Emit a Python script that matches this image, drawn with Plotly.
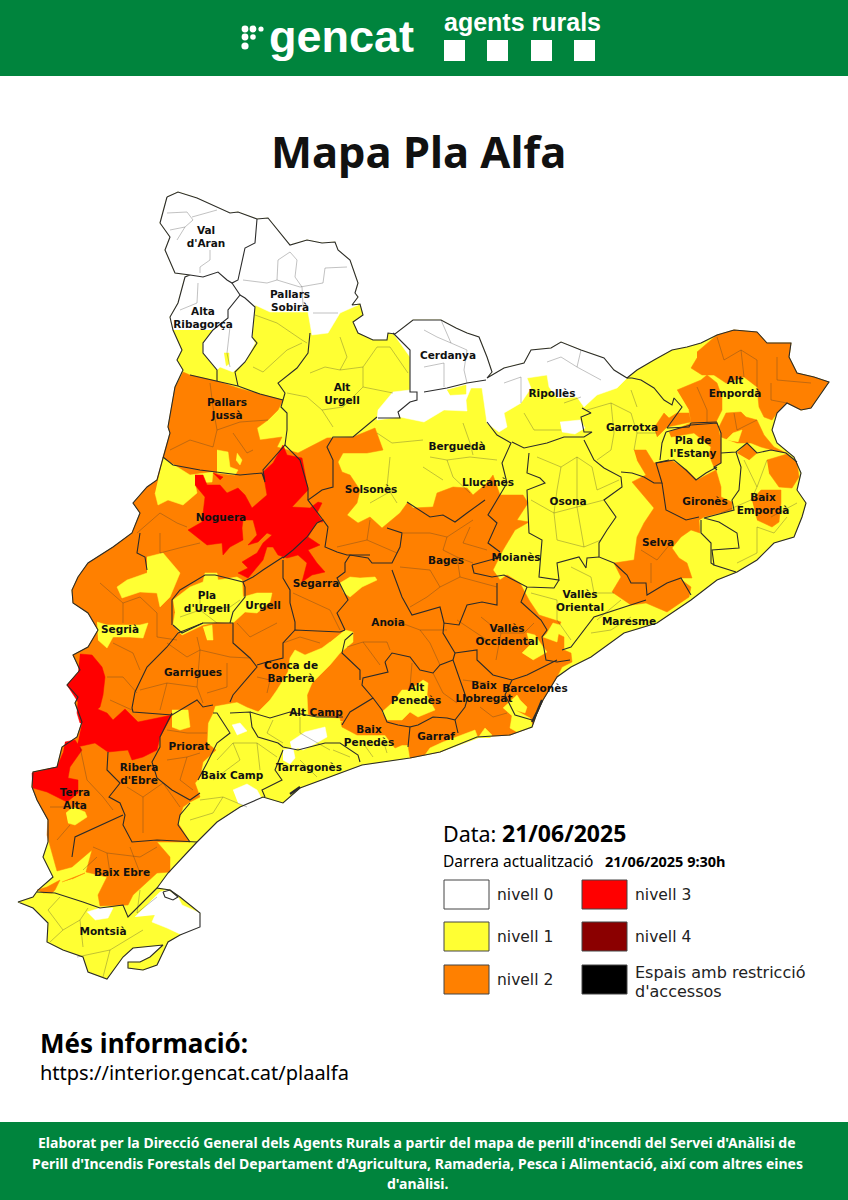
import plotly.graph_objects as go

# map geometry, as (x, y) in picture pixels
CATALONIA = [
    (167,197),(178,192),(197,198),(213,205),(230,213),(238,212),(257,219),(268,218),(278,230),(290,245),
    (307,240),(322,243),(335,242),(338,250),(350,260),(358,283),(355,293),(358,297),(352,305),(360,304),
    (363,315),(353,322),(358,333),(373,340),(387,340),(388,333),(395,334),(413,320),(424,320),(441,320),
    (456,328),(467,333),(479,337),(487,357),(492,372),(487,378),(504,368),(524,363),(531,350),(551,348),
    (561,342),(581,350),(604,358),(614,370),(627,378),(637,370),(654,360),(672,350),(687,347),(701,343),
    (717,335),(734,330),(757,332),(767,343),(791,343),(789,357),(797,373),(814,377),(829,382),(821,393),
    (811,408),(801,410),(787,403),(777,413),(772,430),(777,443),(794,457),(801,473),(797,490),(806,503),
    (802,517),(794,537),(774,543),(757,560),(737,572),(717,580),(691,600),(657,623),(624,633),(591,657),
    (571,667),(557,677),(543,700),(537,713),(532,727),(510,735),(477,737),(440,752),(423,755),(410,758),
    (362,765),(343,772),(300,788),(283,803),(263,797),(240,807),(217,822),(197,842),(168,873),(157,888),
    (170,890),(180,897),(200,913),(200,927),(180,935),(168,942),(157,965),(143,970),(128,968),(128,962),
    (140,962),(150,957),(163,945),(133,948),(123,957),(107,979),(88,972),(83,957),(63,950),(47,942),
    (48,923),(33,908),(18,902),(33,897),(38,890),(53,877),(43,857),(48,842),(48,820),(37,800),(32,787),
    (33,772),(57,767),(62,747),(77,737),(82,722),(75,703),(78,697),(67,685),(80,670),(73,655),(88,647),
    (98,630),(88,613),(73,603),(72,590),(78,577),(88,563),(113,547),(132,533),(140,513),(133,503),(147,487),
    (157,480),(163,457),(170,433),(168,427),(175,387),(183,370),(177,360),(182,350),(173,330),(170,317),
    (178,303),(185,277),(190,275),(175,273),(165,250),(170,237),(160,223),(167,197),
]

LEVEL_0_AREAS = [
    [(173,330),(170,317),(178,303),(185,277),(190,275),(175,273),(165,250),(170,237),(160,223),(167,197),
     (178,192),(197,198),(213,205),(230,213),(238,212),(257,219),(268,218),(278,230),(290,245),(307,240),
     (322,243),(335,242),(338,250),(350,260),(358,283),(355,293),(358,297),(352,305),(358,305),(340,313),
     (328,333),(312,335),(308,312),(270,312),(255,305),(252,337),(255,343),(245,362),(233,372),(220,367),
     (217,370),(203,353),(203,343),(213,330)],
    [(388,333),(395,334),(413,320),(424,320),(441,320),(456,328),(467,333),(479,337),(487,357),(492,372),
     (487,378),(504,368),(524,363),(531,350),(551,348),(561,342),(581,350),(604,358),(614,370),(627,378),
     (617,388),(597,395),(584,407),(577,397),(557,398),(549,387),(547,375),(527,378),(531,388),(521,403),
     (504,413),(507,427),(499,432),(487,423),(484,403),(482,388),(471,388),(466,400),(467,411),(444,410),
     (424,422),(400,417),(377,420),(378,410),(393,392),(410,390),(410,357),(393,333)],
    [(560,422),(580,420),(585,428),(575,434),(562,432)],
    [(233,790),(247,784),(257,790),(263,801),(245,806),(238,803)],
    [(232,725),(240,723),(247,731),(237,735)],
    [(290,742),(305,732),(325,727),(327,737),(313,745),(303,750),(298,748),(292,750)],
    [(283,750),(293,748),(295,758),(290,764),(283,760)],
    [(87,912),(100,908),(113,908),(108,918),(95,920)],
    [(170,608),(177,608),(178,620),(172,622)],
    [(182,621),(190,615),(193,617),(187,624)],
    [(147,562),(154,566),(156,578),(149,578)],
    [(135,917),(160,892),(168,890),(178,897),(182,905),(200,913),(202,927),(182,935),(167,928),(152,922),(155,915)],
]

LEVEL_2_AREAS = [
    [(183,372),(190,375),(217,381),(238,388),(260,394),(283,400),(278,410),(268,420),(257,428),(260,440),
     (282,437),(277,447),(298,453),(327,438),(353,437),(375,428),(383,450),(367,453),(343,453),(338,462),
     (342,472),(350,475),(360,490),(357,503),(347,515),(358,523),(370,517),(382,528),(400,513),(408,502),
     (413,508),(433,507),(437,493),(453,487),(467,488),(473,495),(487,483),(493,475),(500,495),(523,495),
     (528,503),(517,520),(529,522),(515,530),(503,550),(493,570),(500,580),(507,575),(520,583),(529,600),
     (539,615),(561,622),(556,633),(564,637),(564,650),(571,653),(572,662),(562,667),(557,677),(543,700),
     (537,713),(532,727),(510,735),(477,737),(440,752),(423,755),(410,758),(408,745),(402,745),(395,748),
     (385,735),(368,735),(357,735),(342,727),(340,718),(260,712),(247,707),(237,702),(215,706),(213,713),
     (208,723),(207,743),(216,750),(203,762),(200,777),(195,783),(200,797),(190,802),(183,807),(178,823),
     (190,842),(157,842),(170,857),(170,872),(157,873),(133,895),(128,905),(100,906),(98,895),(107,877),
     (86,872),(92,850),(72,867),(57,871),(52,853),(47,835),(48,820),(37,800),(32,787),(33,772),(57,767),
     (62,747),(77,737),(82,722),(75,703),(78,697),(67,685),(80,670),(73,655),(88,647),(98,630),(88,613),
     (73,603),(72,590),(78,577),(88,563),(113,547),(132,533),(140,513),(133,503),(147,487),(157,480),
     (163,457),(170,433),(168,427),(175,387)],
    [(697,352),(717,335),(734,330),(757,332),(767,343),(791,343),(789,357),(797,373),(814,377),(829,382),
     (821,393),(811,408),(801,410),(787,403),(777,413),(772,420),(764,417),(759,407),(757,387),(744,377),
     (726,383),(714,375),(702,375),(691,368),(697,358)],
    [(677,390),(701,380),(707,375),(717,383),(722,397),(722,410),(716,422),(702,425),(691,422),(689,410)],
    [(654,428),(664,413),(669,418),(677,413),(689,413),(691,422),(667,427),(657,437)],
    [(669,432),(691,423),(717,422),(721,440),(721,463),(714,467),(709,455),(711,447),(694,433),(671,437)],
    [(719,427),(726,413),(741,412),(746,417),(757,420),(764,435),(774,447),(786,453),(772,450),(761,447),
     (751,443),(737,443),(721,437)],
    [(737,453),(747,443),(757,453),(749,460)],
    [(767,460),(787,454),(797,463),(799,477),(792,488),(779,487),(769,473)],
    [(752,500),(761,490),(781,490),(781,503),(779,522),(772,527),(757,520)],
    [(634,450),(646,450),(654,463),(671,460),(687,470),(697,480),(716,470),(721,487),(721,497),(732,502),
     (732,510),(704,517),(699,520),(700,533),(691,530),(681,537),(672,548),(679,558),(687,563),(692,578),
     (679,578),(691,587),(689,597),(667,612),(646,603),(631,605),(612,592),(621,577),(614,563),(634,560),
     (637,537),(644,523),(654,508),(639,490),(632,482),(646,475),(637,460)],
    [(37,890),(47,887),(60,880),(55,890),(52,893),(43,893)],
    [(62,882),(85,873),(72,879)],
]

LEVEL_1_PATCHES = [
    [(447,390),(466,385),(466,394),(450,395)],
    [(224,353),(229,353),(229,364),(226,366)],
    [(217,450),(228,452),(230,467),(238,470),(235,475),(217,473)],
    [(237,453),(242,460),(240,465),(236,460)],
    [(163,458),(190,475),(213,472),(212,482),(195,483),(197,493),(183,505),(168,500),(158,505),(155,493)],
    [(147,557),(163,553),(180,573),(170,597),(160,607),(157,593),(140,592),(122,598),(117,587),(127,580),(147,573)],
    [(173,600),(190,587),(203,582),(205,573),(217,573),(218,580),(237,577),(242,580),(243,597),(257,593),
     (272,593),(270,602),(257,613),(245,612),(233,623),(217,622),(203,625),(182,635),(173,625),(175,613)],
    [(203,627),(212,625),(213,640),(207,640)],
    [(97,622),(107,625),(140,625),(148,623),(143,638),(130,637),(113,637),(107,648),(98,640)],
    [(340,583),(350,577),(360,578),(375,577),(377,580),(362,587),(350,597),(343,592)],
    [(345,630),(353,632),(353,642),(340,653),(330,665),(318,677),(312,683),(307,695),(308,715),(343,722),
     (260,716),(257,713),(270,700),(277,690),(288,672),(290,658),(295,650),(305,655),(322,648),(330,642)],
    [(172,710),(188,710),(190,727),(180,730),(172,727)],
    [(66,813),(73,807),(85,812),(87,817),(75,825),(68,823)],
    [(382,712),(392,703),(402,690),(410,690),(423,680),(428,683),(427,695),(435,710),(418,717),(410,712),(402,720),(387,720)],
    [(503,708),(517,695),(520,700),(527,707),(525,713),(515,710),(530,718),(533,727),(517,732),(510,728),(512,716)],
    [(425,755),(430,748),(443,742),(475,730),(478,738),(440,752)],
    [(478,738),(485,728),(492,735),(490,738)],
    [(522,653),(530,645),(527,633),(535,635),(543,647),(547,652),(533,660)],
    [(547,633),(553,623),(560,625),(557,642),(543,637)],
    [(726,440),(733,433),(742,430),(738,442)],
]

LEVEL_3_AREAS = [
    [(195,475),(203,475),(207,485),(220,485),(227,493),(238,488),(245,495),(252,508),(267,495),(263,472),
     (273,463),(283,445),(287,455),(302,458),(308,490),(292,507),(310,508),(318,502),(322,503),(317,513),
     (323,522),(317,522),(308,537),(320,545),(308,550),(317,563),(325,572),(312,575),(302,582),(307,563),
     (298,555),(287,558),(278,555),(273,547),(267,547),(263,560),(248,578),(238,573),(248,568),(242,562),
     (257,553),(263,543),(272,535),(267,533),(258,542),(248,545),(257,535),(253,520),(243,520),(242,528),
     (243,540),(230,547),(223,555),(222,543),(207,545),(188,530),(202,522),(205,497),(195,485)],
    [(213,473),(223,477),(220,480)],
    [(80,654),(92,655),(102,667),(105,677),(103,695),(100,707),(93,713),(92,723),(80,723),(77,713),(78,702),(67,685),(78,673)],
    [(82,723),(95,708),(107,713),(113,720),(125,709),(138,722),(172,715),(160,737),(157,750),(143,757),(132,760),(128,750),(108,752),(95,743),(77,747)],
    [(65,742),(75,740),(82,750),(70,767),(68,778),(78,780),(78,793),(67,802),(47,792),(33,788),(32,773),(57,767),(63,753)],
]

COMARCA_LINES = [
    [(257,219),(255,243),(245,248),(238,280),(232,283),(227,280),(218,272),(203,277),(190,275)],
    [(232,283),(240,295),(228,310),(228,318),(213,330),(203,343),(203,353),(217,370),(217,381)],
    [(240,295),(245,298),(255,307),(252,337),(257,343),(245,362),(235,372),(238,386)],
    [(310,333),(308,353),(297,368),(278,383),(285,393),(283,400),(281,407),(287,413),(287,430),(285,445)],
    [(190,375),(217,381),(238,386),(260,394),(283,400)],
    [(163,457),(173,465),(200,470),(240,475),(262,473),(265,482),(263,470),(285,445),(300,460),(308,488),(308,500)],
    [(377,417),(353,437),(333,437),(327,447),(333,460),(333,487),(322,490),(308,500),(323,520)],
    [(393,333),(410,350),(410,392),(417,392),(417,400),(410,402),(398,412),(400,418),(378,418)],
    [(424,392),(447,388),(467,383),(486,380)],
    [(487,422),(497,435),(511,443),(502,463),(507,483),(500,495),(488,515),(497,523),(488,543),(500,552)],
    [(512,442),(524,448),(547,443),(564,437),(584,437),(592,432),(584,432),(581,417),(591,413),(582,408)],
    [(584,440),(594,460),(604,468),(621,477),(622,487),(604,500),(616,517),(607,530),(599,543),(599,557),(614,563)],
    [(529,453),(527,473),(540,478),(545,483),(527,490),(529,533),(542,540),(539,577),(559,580),(557,563),(579,557),(586,568),(587,558),(599,557)],
    [(472,565),(474,573),(492,577),(504,575),(527,587),(554,588),(559,580)],
    [(501,557),(472,565)],
    [(527,587),(521,602),(541,620),(547,630),(542,637),(544,650),(546,660),(557,662),(570,660)],
    [(497,583),(497,605),(482,602),(467,605),(459,625),(444,623),(443,633),(455,653),(453,660),(467,700),(465,707),(455,720)],
    [(455,653),(477,650),(477,660),(493,675),(512,680),(527,675),(557,660)],
    [(512,680),(505,695),(515,715),(532,720)],
    [(408,747),(410,727),(418,725),(433,717),(447,718),(455,720),(458,733)],
    [(385,662),(392,653),(410,657),(420,670),(433,673),(440,665),(453,660)],
    [(385,662),(388,672),(363,678),(362,685),(373,698),(350,712),(342,725)],
    [(360,680),(360,670),(342,653),(345,640),(353,633)],
    [(373,698),(382,710),(387,722),(398,725),(410,727)],
    [(392,570),(402,597),(412,615),(440,607),(444,623)],
    [(407,502),(423,512),(430,517),(443,515),(455,522),(467,513),(485,500)],
    [(387,528),(402,533),(400,547),(392,563),(372,563),(368,558),(350,555),(345,563),(345,572),(337,578),(342,588),(348,600),(337,613),(345,630)],
    [(178,633),(167,647),(147,667),(135,692),(132,708),(133,712),(172,715),(197,700),(203,707),(213,705)],
    [(178,633),(203,623),(233,623),(233,643),(250,658),(257,667),(233,695),(230,702)],
    [(257,665),(267,662),(283,658),(283,643),(295,630),(340,632),(345,630)],
    [(283,560),(283,578),(290,590),(290,603),(295,622),(295,630)],
    [(283,558),(293,550),(307,537),(317,523),(323,520),(328,527),(325,547),(337,552),(347,555),(370,555)],
    [(243,582),(253,577),(263,570),(283,557)],
    [(140,533),(137,553),(145,557),(147,570)],
    [(173,625),(182,633),(203,623)],
    [(230,623),(233,612),(245,597),(245,587),(243,582),(215,575),(205,575),(180,590),(172,600),(172,625)],
    [(172,713),(160,737),(160,747),(152,762),(157,778),(172,790),(190,800),(200,793)],
    [(213,713),(217,713),(230,733),(217,743),(207,763),(198,780)],
    [(230,713),(250,712),(252,727),(258,737),(278,743),(283,747),(298,750),(325,743),(340,743),(358,755),(360,762)],
    [(283,750),(275,770),(282,780),(262,790),(265,797)],
    [(250,712),(270,718),(290,712),(317,717),(343,717)],
    [(108,752),(107,770),(120,783),(109,797),(120,803),(125,815),(123,825),(132,842),(157,840),(197,842)],
    [(123,815),(97,827),(75,837),(72,857)],
    [(190,803),(180,815),(178,825),(190,842)],
    [(37,892),(55,893),(83,902),(100,908),(123,905),(128,917),(157,888)],
    [(627,378),(632,378),(641,380),(654,388),(664,400),(672,405),(674,398),(682,407),(667,428),(689,427),(691,423),(717,422)],
    [(621,472),(632,473),(644,477),(654,483),(662,483),(656,463),(669,460)],
    [(666,432),(662,443),(660,460)],
    [(666,432),(691,425),(717,423),(721,433),(721,463),(714,467),(717,470)],
    [(656,463),(674,460),(686,470),(696,480),(706,473),(717,467)],
    [(721,453),(736,452),(747,443),(757,453),(771,450),(786,453),(797,462)],
    [(736,452),(741,467),(739,490),(732,500),(734,510),(704,518),(719,522),(737,533),(739,548),(712,550),(714,565),(736,572)],
    [(662,483),(664,497),(666,510),(686,520),(699,517)],
    [(701,520),(701,533),(711,543),(711,563),(714,565)],
    [(614,563),(627,575),(631,583),(646,583),(647,595),(667,583),(681,578),(691,595)],
    [(646,600),(621,608),(594,617),(571,647),(562,650)],
    [(163,892),(170,890),(178,897),(173,900),(165,897),(163,892)],
]

# harbours drawn heavier along the coast
HARBOUR_LINES = [
    [(532,722),(537,712),(542,700)],
    [(290,794),(300,787)],
]

MUNICIPAL_LINES = [
    [(167,213),(187,212),(193,220),(185,227),(170,230)],[(192,217),(217,210)],[(185,227),(177,240)],
    [(210,250),(210,260),(200,267),(200,273)],
    [(243,280),(267,283),(277,280),(300,287),(323,283),(325,268),(347,267)],
    [(278,260),(290,252),(297,260),(295,277),(302,287),(303,305)],[(278,260),(277,280)],[(313,313),(338,313)],
    [(198,283),(197,303),(180,310)],[(230,327),(227,353),(230,367)],
    [(255,315),(277,323),(302,340),(307,343)],[(253,367),(263,372),(287,350),(302,343)],
    [(310,373),(325,367),(340,370),(363,367),(377,347),(390,347),(408,373)],[(340,337),(347,357),(340,370)],
    [(287,393),(307,397),(322,410),(333,427)],[(322,410),(343,407),(363,387),(363,367)],[(363,387),(393,393)],
    [(210,383),(213,407),(217,430),(213,447),(190,440),(170,450)],[(217,430),(240,422),(268,420)],
    [(233,433),(247,453),(253,450)],
    [(160,513),(177,523),(187,527)],[(160,533),(160,553),(183,547),(200,543)],[(137,533),(160,513)],
    [(370,520),(367,540),(337,547)],[(367,540),(397,553)],[(390,457),(387,487),(397,503)],[(370,503),(393,490)],
    [(377,433),(392,443),(423,440)],
    [(430,457),(447,460),(470,457),(497,460)],[(447,460),(453,477),(470,493)],[(423,467),(443,480)],
    [(463,423),(470,443),(473,455)],
    [(403,533),(430,533),(447,537),(473,520)],[(447,537),(443,550),(457,557),(473,563)],
    [(400,567),(430,570),(440,587),(427,597),(410,607)],[(460,577),(440,587)],[(460,577),(497,587)],
    [(470,527),(463,543),(487,550)],[(457,557),(460,577)],
    [(347,647),(363,642),(387,642),(390,650)],[(393,620),(420,630),(430,643),(440,665)],[(420,630),(447,630)],
    [(363,642),(380,665)],[(433,673),(443,693),(457,703)],[(412,663),(410,687)],
    [(480,707),(493,717),(507,713)],[(463,680),(487,683)],
    [(481,617),(501,633),(524,633),(534,623)],[(501,633),(496,660)],[(457,620),(487,640)],
    [(531,500),(554,513),(577,507),(604,500)],[(554,513),(557,540),(584,547)],[(577,507),(584,547),(601,540)],
    [(537,457),(561,467),(577,457),(592,467)],[(561,467),(557,490),(554,513)],[(577,457),(577,507)],
    [(592,467),(597,490),(619,480)],
    [(587,410),(611,403),(631,413),(637,433),(657,433)],[(611,403),(614,433),(611,450),(597,460)],
    [(631,390),(637,407)],[(637,433),(634,450)],[(524,413),(534,430),(561,430)],[(564,403),(581,397)],
    [(504,383),(521,377),(521,403)],[(547,362),(561,357),(577,367),(581,350)],[(577,367),(601,380)],
    [(441,320),(451,343),(467,350)],[(424,330),(437,337),(451,343)],[(467,350),(464,370),(467,383)],
    [(444,363),(444,387)],[(424,367),(444,363)],
    [(571,567),(591,577),(594,593),(614,593)],[(531,593),(557,600)],[(557,600),(557,620),(571,640)],
    [(597,620),(621,600)],[(591,633),(611,630),(631,617)],
    [(651,563),(651,583)],[(641,550),(657,560),(671,543)],
    [(744,460),(757,487),(751,500),(721,513)],[(757,487),(767,460)],[(757,527),(757,553),(737,563)],
    [(787,517),(774,533),(757,527)],[(771,517),(797,503)],
    [(717,337),(724,360),(741,350),(757,360),(757,387)],[(741,350),(744,377)],
    [(777,357),(777,380),(811,383)],[(771,383),(771,400),(787,403)],[(697,387),(707,410),(707,423)],
    [(734,413),(737,430),(757,420)],
    [(140,690),(167,683),(197,687),(203,703)],[(167,683),(160,710)],[(197,687),(200,650),(197,637)],
    [(200,650),(230,657),(250,658)],[(167,643),(187,657),(200,650)],[(227,663),(227,687),(207,693)],
    [(100,583),(123,603),(140,597),(157,613),(157,637),(177,640)],[(123,603),(123,623)],
    [(113,643),(133,653),(140,670)],[(107,677),(123,677),(137,693)],[(110,700),(132,710)],
    [(257,677),(270,680),(267,693)],[(283,643),(300,637),(320,643)],[(293,593),(330,610),(340,630)],
    [(237,623),(250,637),(277,623)],
    [(217,760),(233,743),(257,743),(277,757)],[(233,743),(240,760),(213,780)],[(257,743),(260,770)],
    [(200,800),(223,797),(247,807)],[(223,797),(213,813),(190,820)],[(273,720),(267,733),(283,743)],
    [(300,717),(300,733),(330,750)],[(333,750),(350,757)],[(363,743),(373,757)],[(383,740),(387,753)],
    [(300,760),(317,777)],
    [(167,760),(187,757),(200,753)],[(187,757),(180,780),(193,790)],[(167,730),(187,733),(207,733)],
    [(127,787),(143,797),(143,833)],[(143,797),(163,783),(180,807)],
    [(80,747),(87,780),(103,797),(113,810)],[(50,807),(70,807)],[(70,825),(57,840)],
    [(93,847),(107,853),(140,857),(157,847)],[(107,853),(110,873)],[(97,857),(83,870)],[(130,847),(140,873)],
    [(60,897),(48,910),(63,930),(80,920),(88,908)],[(63,930),(50,942)],[(80,920),(83,947)],
    [(77,957),(110,950),(143,930)],[(110,950),(103,977)],[(140,890),(137,913),(157,897)],
    [(200,590),(200,610),(217,623)],[(200,610),(230,607),(240,600)],[(180,617),(200,610)],
]

LABEL_NAMES = ["Val<br>d'Aran","Pallars<br>Sobirà","Alta<br>Ribagorça","Cerdanya","Pallars<br>Jussà","Alt<br>Urgell",
    "Ripollès","Alt<br>Empordà","Garrotxa","Pla de<br>l'Estany","Berguedà","Solsonès","Lluçanès","Noguera",
    "Osona","Gironès","Baix<br>Empordà","Selva","Bages","Moianès","Segarra","Pla<br>d'Urgell","Urgell",
    "Vallès<br>Oriental","Maresme","Segrià","Anoia","Vallès<br>Occidental","Garrigues","Conca de<br>Barberà",
    "Alt<br>Penedès","Baix<br>Llobregat","Barcelonès","Alt Camp","Baix<br>Penedès","Garraf","Priorat",
    "Tarragonès","Baix Camp","Ribera<br>d'Ebre","Terra<br>Alta","Baix Ebre","Montsià"]
LABEL_X = [206,290,203,448,227,342,552,735,632,693,457,371,488,221,568,705,763,658,446,516,316,207,263,
    580,629,120,388,507,193,291,416,484,535,316,369,436,189,309,232,139,75,122,103]
LABEL_Y = [238,302,319,356,410,395,394,388,428,448,447,490,483,518,502,502,505,543,561,558,584,603,606,
    602,622,630,623,636,673,673,695,693,689,713,737,737,747,768,776,775,800,873,932]

LEVEL_NAMES_1 = ["nivell 0", "nivell 1", "nivell 2"]
LEVEL_NAMES_2 = ["nivell 3", "nivell 4", "Espais amb restricció", "d'accessos"]
LEVEL_COLORS_1 = ["#FFFFFF", "#FFFF33", "#FF8000"]
LEVEL_COLORS_2 = ["#FF0000", "#8B0000", "#000000"]
FOOTER_LINES = [
    "Elaborat per la Direcció General dels Agents Rurals a partir del mapa de perill d'incendi del Servei d'Anàlisi de",
    "Perill d'Incendis Forestals del Departament d'Agricultura, Ramaderia, Pesca i Alimentació, així com altres eines",
    "d'anàlisi.",
]

GREEN = "#00843D"
YELLOW = LEVEL_COLORS_1[1]
ORANGE = LEVEL_COLORS_1[2]
RED = LEVEL_COLORS_2[0]
LINE = "#2b2b2b"
BODY_FONT = "Noto Sans"


def area_trace(points, color):
    return go.Scatter(
        x=[p[0] for p in points], y=[p[1] for p in points],
        mode="lines", fill="toself", fillcolor=color,
        line=dict(color=color, width=0.5),
        hoverinfo="skip", showlegend=False,
    )


def lines_trace(lines, color, width):
    xs, ys = [], []
    for line in lines:
        xs += [p[0] for p in line] + [None]
        ys += [p[1] for p in line] + [None]
    return go.Scatter(x=xs, y=ys, mode="lines", line=dict(color=color, width=width),
                      hoverinfo="skip", showlegend=False)


fig = go.Figure()
fig.add_trace(area_trace(CATALONIA, YELLOW))
for area in LEVEL_0_AREAS:
    fig.add_trace(area_trace(area, "#FFFFFF"))
for area in LEVEL_2_AREAS:
    fig.add_trace(area_trace(area, ORANGE))
for area in LEVEL_1_PATCHES:
    fig.add_trace(area_trace(area, YELLOW))
for area in LEVEL_3_AREAS:
    fig.add_trace(area_trace(area, RED))

# municipal borders, then comarca borders and the country outline on top of the fills
fig.add_trace(lines_trace(MUNICIPAL_LINES, "rgba(50,50,50,0.5)", 0.6))
fig.add_trace(lines_trace(COMARCA_LINES + [CATALONIA], LINE, 1.1))
fig.add_trace(lines_trace(HARBOUR_LINES, LINE, 2.2))

fig.add_trace(go.Scatter(
    x=LABEL_X, y=LABEL_Y, mode="text", text=LABEL_NAMES,
    textfont=dict(family="DejaVu Sans", size=10.5, color="#111111", weight="bold"),
    hoverinfo="skip", showlegend=False,
))

shapes = [
    dict(type="rect", x0=0, x1=848, y0=0, y1=76, fillcolor=GREEN, line_width=0, layer="below"),
    dict(type="rect", x0=0, x1=848, y0=1122, y1=1200, fillcolor=GREEN, line_width=0, layer="below"),
]
for sq_x in [444, 487, 531, 574]:
    shapes.append(dict(type="rect", x0=sq_x, x1=sq_x + 21, y0=40, y1=61, fillcolor="white", line_width=0))
for dot_x, dot_y, r in [(245,29,3.4),(253,29,3.4),(261,29,2.6),(245,37,3.4),(253,37,2.8),(245,46,3.6)]:
    shapes.append(dict(type="circle", x0=dot_x - r, x1=dot_x + r, y0=dot_y - r, y1=dot_y + r,
                       fillcolor="white", line_width=0))

annotations = []


def put(text, x, y, size, color="black", family=BODY_FONT, bold=False, anchor="left"):
    annotations.append(dict(
        text=f"<b>{text}</b>" if bold else text, x=x, y=y, xref="x", yref="y",
        xanchor=anchor, yanchor="middle", showarrow=False, align=anchor,
        font=dict(family=family, size=size, color=color),
    ))


put("gencat", 267, 36, 45, "white", "Liberation Sans", True)
put("agents rurals", 442, 22, 25, "white", "Liberation Sans", True)
put("Mapa Pla Alfa", 418, 151, 43.5, "#111111", bold=True, anchor="center")
put("Data:", 441, 833, 21.5)
put("21/06/2025", 500, 833, 23, bold=True)
put("Darrera actualització", 441, 861, 15.5)
put("21/06/2025 9:30h", 603, 861, 14.5, bold=True)

for i, sw_y in enumerate([880, 922, 965]):
    shapes.append(dict(type="rect", x0=444, x1=489, y0=sw_y, y1=sw_y + 29, fillcolor=LEVEL_COLORS_1[i],
                       line=dict(color="#444444", width=1)))
    shapes.append(dict(type="rect", x0=582, x1=627, y0=sw_y, y1=sw_y + 29, fillcolor=LEVEL_COLORS_2[i],
                       line=dict(color="#444444", width=1)))
    put(LEVEL_NAMES_1[i], 495, sw_y + 15, 15.5, "#222222", "DejaVu Sans")
put(LEVEL_NAMES_2[0], 633, 895, 15.5, "#222222", "DejaVu Sans")
put(LEVEL_NAMES_2[1], 633, 937, 15.5, "#222222", "DejaVu Sans")
put(LEVEL_NAMES_2[2], 633, 972, 16, "#222222", "DejaVu Sans")
put(LEVEL_NAMES_2[3], 633, 991, 16, "#222222", "DejaVu Sans")

put("Més informació:", 38, 1043, 26, bold=True)
put("https://interior.gencat.cat/plaalfa", 38, 1072, 20)
for line_text, foot_y in zip(FOOTER_LINES, [1142, 1163, 1183]):
    put(line_text, 417, foot_y, 14, "white", bold=True, anchor="center")

fig.update_layout(
    width=848, height=1200,
    margin=dict(l=0, r=0, t=0, b=0),
    paper_bgcolor="white", plot_bgcolor="white",
    xaxis=dict(range=[0, 848], visible=False, fixedrange=True),
    yaxis=dict(range=[1200, 0], visible=False, fixedrange=True),
    shapes=shapes, annotations=annotations, showlegend=False,
)

fig.write_html("out.html", config={"displayModeBar": False},
               post_script="document.body.style.margin='0';")
